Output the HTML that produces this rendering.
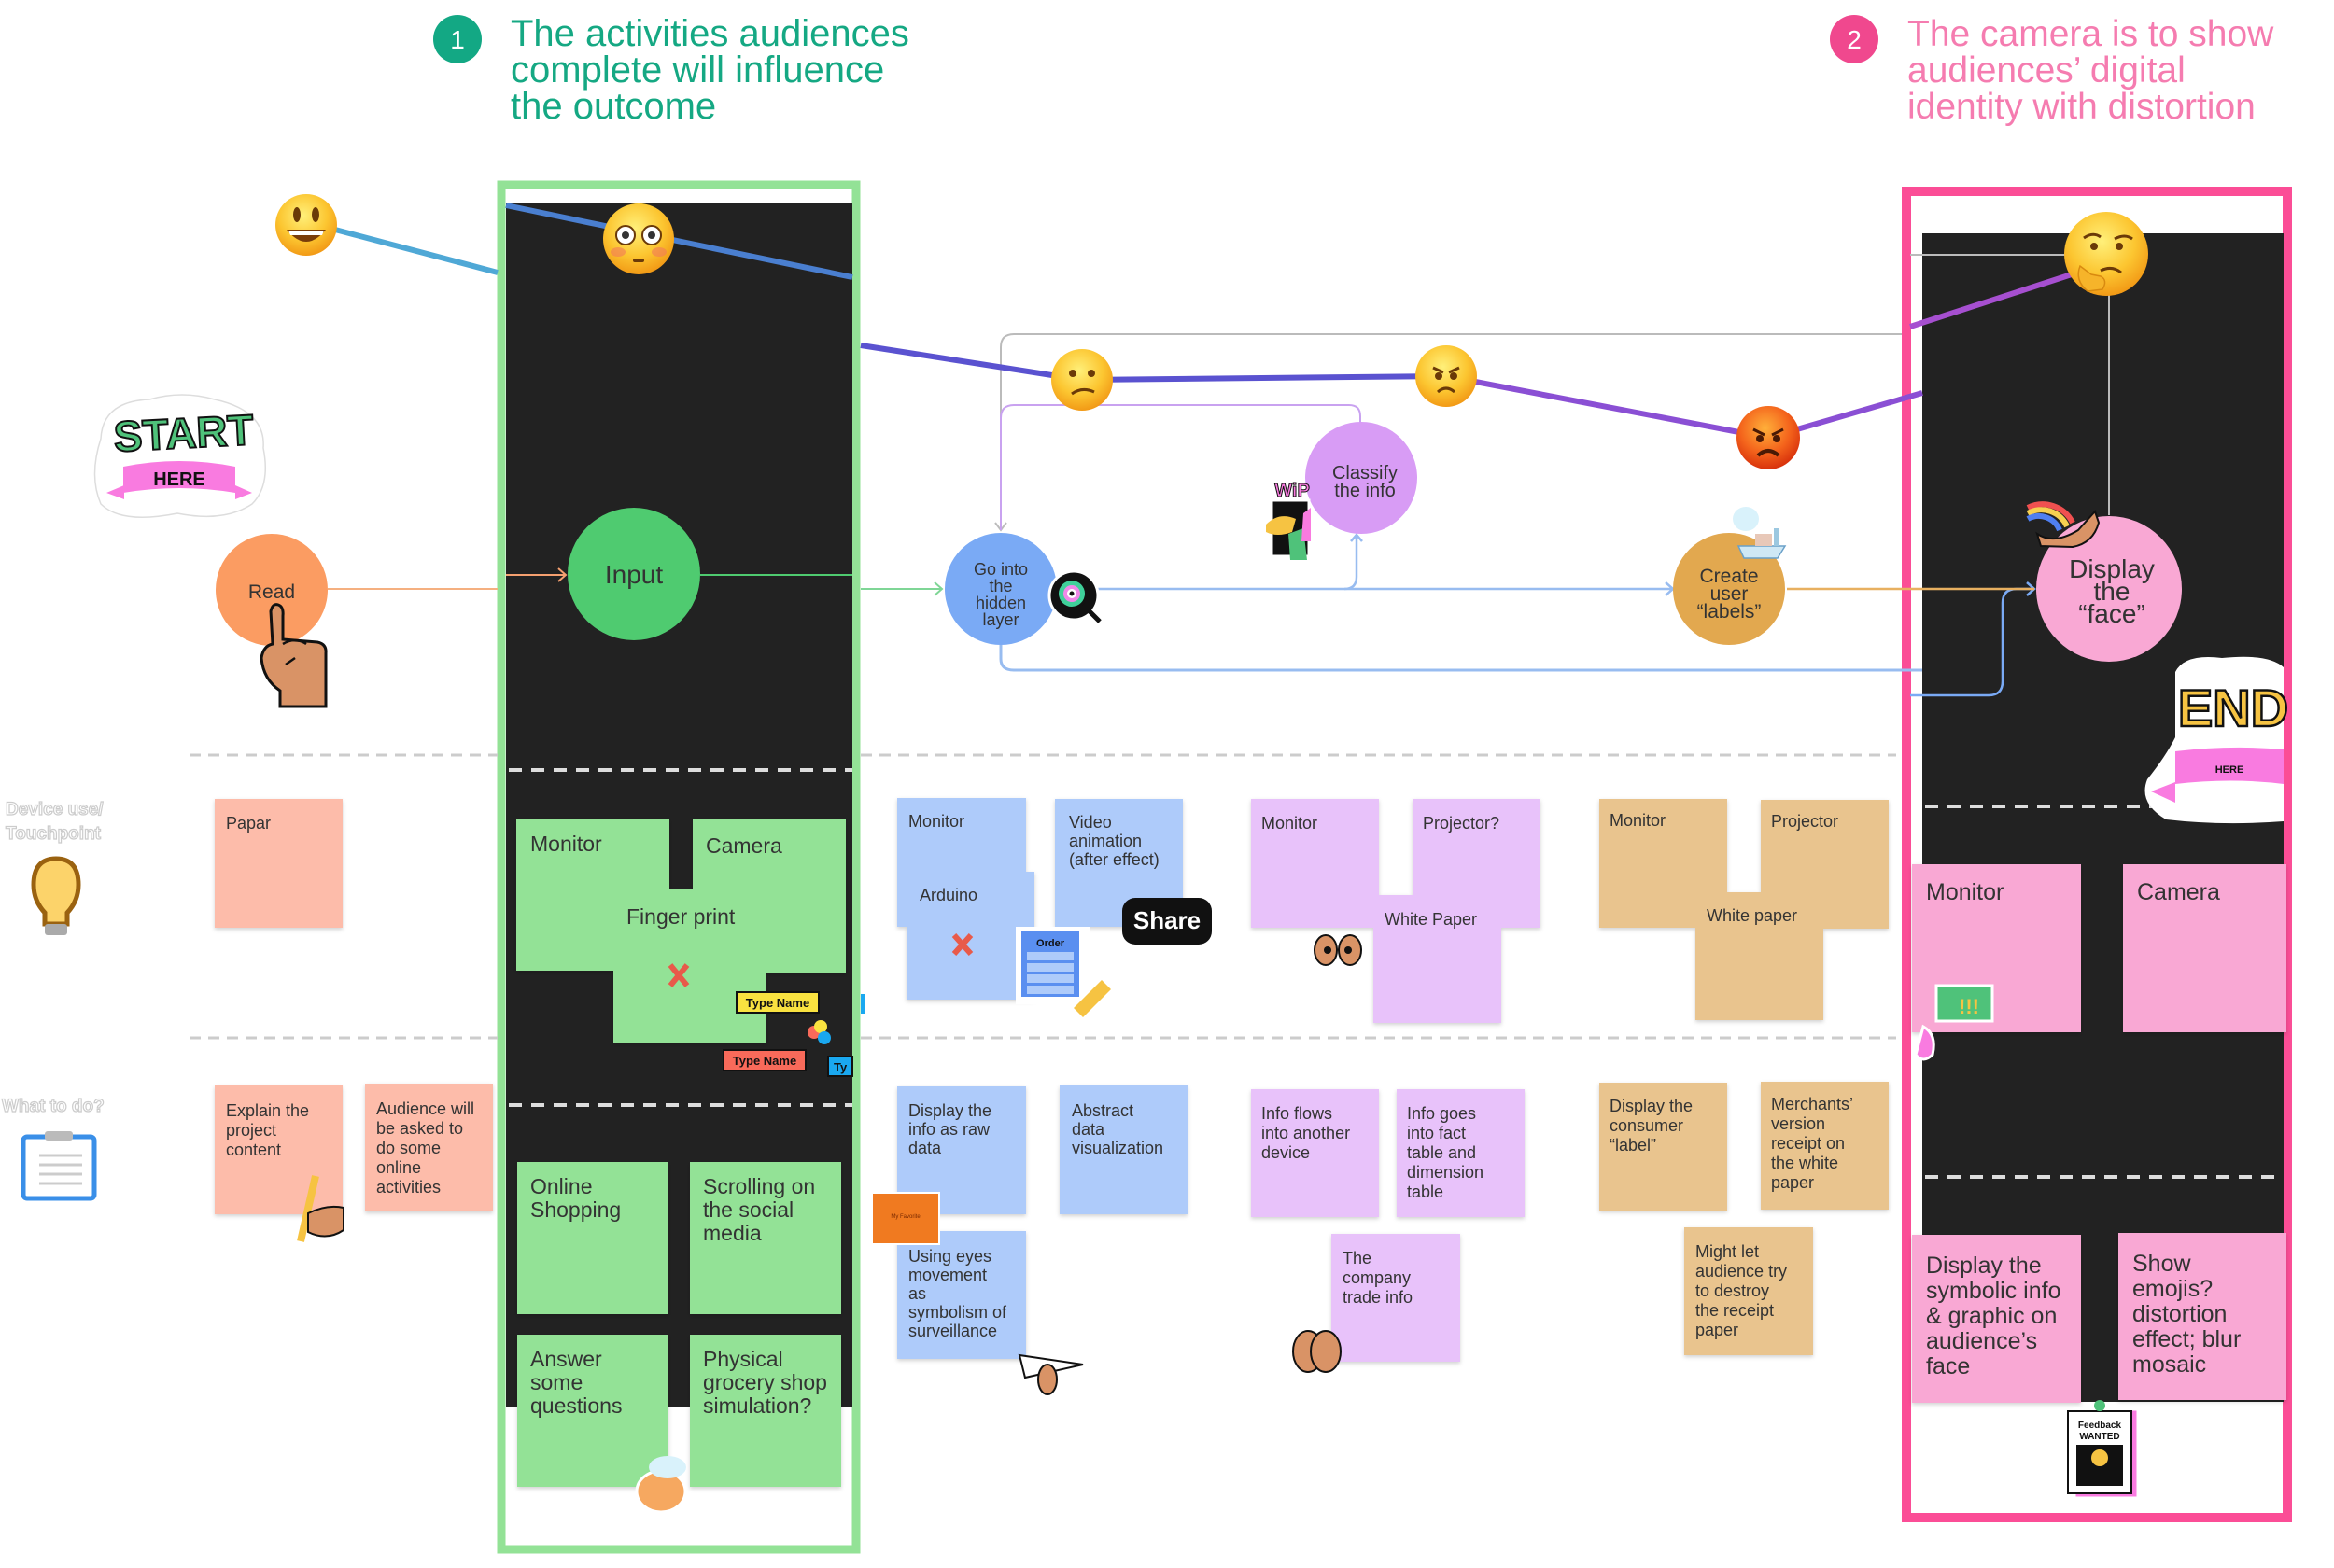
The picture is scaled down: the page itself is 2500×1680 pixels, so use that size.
<!DOCTYPE html>
<html><head><meta charset="utf-8"><style>
html,body{margin:0;padding:0;background:#fff;}
svg{display:block;}
text{font-family:"Liberation Sans",sans-serif;}
</style></head><body>
<svg width="2500" height="1680" viewBox="0 0 2500 1680" xmlns="http://www.w3.org/2000/svg">
<defs>
<radialGradient id="emo" cx="45%" cy="35%" r="65%"><stop offset="0" stop-color="#fff07a"/><stop offset="0.6" stop-color="#fcc631"/><stop offset="1" stop-color="#f29a16"/></radialGradient>
<radialGradient id="emoR" cx="45%" cy="35%" r="65%"><stop offset="0" stop-color="#ffb03a"/><stop offset="0.6" stop-color="#f4641c"/><stop offset="1" stop-color="#d8320c"/></radialGradient>
<filter id="sh" x="-5%" y="-5%" width="115%" height="115%"><feDropShadow dx="0" dy="2" stdDeviation="2" flood-opacity="0.18"/></filter>
</defs>

<!-- Headers -->
<circle cx="490" cy="42" r="26" fill="#13a884"/>
<text x="490" y="52" font-size="28" fill="#fff" text-anchor="middle">1</text>
<text font-size="40" fill="#15a883"><tspan x="547" y="49">The activities audiences</tspan><tspan x="547" y="88">complete will influence</tspan><tspan x="547" y="127">the outcome</tspan></text>
<circle cx="1986" cy="42" r="26" fill="#f0488e"/>
<text x="1986" y="52" font-size="28" fill="#fff" text-anchor="middle">2</text>
<text font-size="39" fill="#f57cb0"><tspan x="2043" y="49">The camera is to show</tspan><tspan x="2043" y="88">audiences’ digital</tspan><tspan x="2043" y="127">identity with distortion</tspan></text>

<!-- Green frame -->
<rect x="537" y="198" width="380" height="1462" fill="#fff" stroke="#93e296" stroke-width="9"/>
<rect x="542" y="218" width="371" height="1289" fill="#222"/>
<!-- Pink frame -->
<rect x="2042" y="205" width="408" height="1421" fill="#fff" stroke="#fb4d96" stroke-width="10"/>
<rect x="2059" y="250" width="387" height="1252" fill="#222"/>

<!-- dashed lines -->
<line x1="203" y1="809" x2="533" y2="809" stroke="#ccc" stroke-width="3" stroke-dasharray="12,8"/>
<line x1="922" y1="809" x2="2031" y2="809" stroke="#ccc" stroke-width="3" stroke-dasharray="12,8"/>
<line x1="203" y1="1112" x2="533" y2="1112" stroke="#ccc" stroke-width="3" stroke-dasharray="12,8"/>
<line x1="922" y1="1112" x2="2031" y2="1112" stroke="#ccc" stroke-width="3" stroke-dasharray="12,8"/>
<line x1="545" y1="825" x2="913" y2="825" stroke="#ddd" stroke-width="4" stroke-dasharray="14,10"/>
<line x1="545" y1="1184" x2="913" y2="1184" stroke="#ddd" stroke-width="4" stroke-dasharray="14,10"/>
<line x1="2062" y1="864" x2="2446" y2="864" stroke="#ddd" stroke-width="4" stroke-dasharray="14,10"/>
<line x1="2062" y1="1261" x2="2446" y2="1261" stroke="#ddd" stroke-width="4" stroke-dasharray="14,10"/>

<!-- Connectors -->
<path d="M1072 568 V372 Q1072 358 1086 358 H2037" fill="none" stroke="#bbb" stroke-width="2"/>
<path d="M2046 273 H2256" fill="none" stroke="#bbb" stroke-width="2"/>
<path d="M2259 300 V552" fill="none" stroke="#bbb" stroke-width="2"/>
<path d="M1066 560 L1072 568 L1078 560" fill="none" stroke="#bbb" stroke-width="2"/>
<path d="M1072 568 V448 Q1072 434 1086 434 H1445 Q1457 434 1457 446 V453" fill="none" stroke="#c9a2f0" stroke-width="2"/>
<line x1="351" y1="631" x2="533" y2="631" stroke="#f5b080" stroke-width="2"/>
<path d="M542 616 H606 M598 609 L606 616 L598 623" fill="none" stroke="#f5a070" stroke-width="2"/>
<line x1="750" y1="616" x2="913" y2="616" stroke="#4fcb70" stroke-width="2"/>
<path d="M922 631 H1009 M1001 624 L1009 631 L1001 638" fill="none" stroke="#7fd696" stroke-width="2"/>
<path d="M1132 631 H1792 M1784 624 L1792 631 L1784 638" fill="none" stroke="#98bcf0" stroke-width="2.5"/>
<path d="M1440 631 Q1453 631 1453 618 V573 M1447 580 L1453 573 L1459 580" fill="none" stroke="#98bcf0" stroke-width="2.5"/>
<path d="M1072 691 V706 Q1072 718 1086 718 H2059" fill="none" stroke="#98bcf0" stroke-width="3"/>
<path d="M2046 745 H2130 Q2145 745 2145 730 V646 Q2145 631 2160 631 H2179 M2171 624 L2179 631 L2171 638" fill="none" stroke="#7aaaf5" stroke-width="2.5"/>
<line x1="1914" y1="631" x2="2179" y2="631" stroke="#e8b060" stroke-width="2.5"/>

<!-- emotion line -->
<polyline points="359,246 533,292" fill="none" stroke="#4fa8d6" stroke-width="6"/>
<polyline points="542,220 913,297" fill="none" stroke="#4a7fd0" stroke-width="6"/>
<polyline points="922,370 1159,407 1549,403" fill="none" stroke="#5a52d0" stroke-width="6"/>
<polyline points="1549,403 1894,469 2059,421" fill="none" stroke="#8a4fd4" stroke-width="6"/>
<polyline points="2046,350 2219,294" fill="none" stroke="#a64fd0" stroke-width="6"/>

<!-- emojis -->
<g>
<circle cx="328" cy="241" r="33" fill="url(#emo)"/>
<ellipse cx="318" cy="230" rx="4" ry="8" fill="#6b3a08"/><ellipse cx="338" cy="230" rx="4" ry="8" fill="#6b3a08"/>
<path d="M307 246 Q328 272 349 246 Z" fill="#7a3d0a"/><path d="M309 247 H347 L345 252 H311Z" fill="#fff"/>
</g>
<g>
<circle cx="684" cy="256" r="38" fill="url(#emo)"/>
<circle cx="670" cy="252" r="10" fill="#fff" stroke="#6b3a08" stroke-width="2"/><circle cx="670" cy="252" r="4" fill="#333"/>
<circle cx="698" cy="252" r="10" fill="#fff" stroke="#6b3a08" stroke-width="2"/><circle cx="698" cy="252" r="4" fill="#333"/>
<ellipse cx="662" cy="270" rx="8" ry="5" fill="#f27a5a" opacity=".6"/><ellipse cx="706" cy="270" rx="8" ry="5" fill="#f27a5a" opacity=".6"/>
<rect x="678" y="277" width="12" height="4" rx="2" fill="#6b3a08"/>
</g>
<g>
<circle cx="1159" cy="407" r="33" fill="url(#emo)"/>
<circle cx="1149" cy="400" r="4" fill="#6b3a08"/><circle cx="1169" cy="400" r="4" fill="#6b3a08"/>
<path d="M1148 422 Q1159 414 1172 420" fill="none" stroke="#6b3a08" stroke-width="3"/>
</g>
<g>
<circle cx="1549" cy="403" r="33" fill="url(#emo)"/>
<path d="M1535 394 L1546 399 M1563 394 L1552 399" stroke="#6b3a08" stroke-width="3"/>
<circle cx="1541" cy="403" r="4" fill="#6b3a08"/><circle cx="1557" cy="403" r="4" fill="#6b3a08"/>
<path d="M1540 420 Q1549 412 1558 420" fill="none" stroke="#6b3a08" stroke-width="3"/>
</g>
<g>
<circle cx="1894" cy="469" r="34" fill="url(#emoR)"/>
<path d="M1878 460 L1890 466 M1910 460 L1898 466" stroke="#4a1a05" stroke-width="3"/>
<circle cx="1885" cy="470" r="4" fill="#4a1a05"/><circle cx="1903" cy="470" r="4" fill="#4a1a05"/>
<path d="M1883 488 Q1894 478 1905 488" fill="none" stroke="#4a1a05" stroke-width="4"/>
</g>
<g>
<circle cx="2256" cy="272" r="45" fill="url(#emo)"/>
<path d="M2232 255 Q2242 248 2250 254 M2265 256 Q2276 250 2284 256" fill="none" stroke="#6b3a08" stroke-width="3"/>
<circle cx="2243" cy="264" r="4" fill="#6b3a08"/><circle cx="2270" cy="264" r="4" fill="#6b3a08"/>
<path d="M2250 290 Q2262 284 2272 292" fill="none" stroke="#6b3a08" stroke-width="3"/>
<path d="M2228 285 Q2222 300 2236 312 L2252 310 Q2258 300 2250 296 L2240 294Z" fill="#f6b42a" stroke="#d88a10" stroke-width="1.5"/>
</g>

<!-- START sticker -->
<g>
<path d="M108 470 Q110 430 160 428 Q195 418 230 428 Q285 440 282 480 Q290 520 270 540 Q240 560 190 550 Q130 562 108 540 Q95 510 108 470Z" fill="#fff" stroke="#ddd" stroke-width="1.5"/>
<text x="197" y="480" font-size="46" font-weight="bold" fill="#4fc27a" stroke="#111" stroke-width="2" text-anchor="middle" transform="rotate(-3 197 470)">START</text>
<path d="M114 528 L133 520 L133 535 Z M270 528 L252 520 L252 535Z" fill="#f97be0"/>
<path d="M132 500 Q192 488 252 500 V528 Q192 518 132 528Z" fill="#f97be0"/>
<text x="192" y="520" font-size="20" font-weight="bold" fill="#111" text-anchor="middle">HERE</text>
</g>

<!-- Nodes -->
<circle cx="291" cy="632" r="60" fill="#fb9c62"/>
<text x="291" y="641" font-size="21" fill="#333" text-anchor="middle">Read</text>
<g>
<path d="M290 655 Q292 646 298 648 Q304 650 303 660 V685 L340 688 Q350 690 349 700 V757 H300 V740 Q282 728 280 705 Q282 692 292 690Z" fill="#d99366" stroke="#111" stroke-width="3"/>
<path d="M303 690 Q316 682 328 690 M316 705 L306 712" fill="none" stroke="#111" stroke-width="2.5"/>
</g>
<circle cx="679" cy="615" r="71" fill="#4fcb70"/>
<text x="679" y="625" font-size="28" fill="#333" text-anchor="middle">Input</text>
<circle cx="1072" cy="631" r="60" fill="#7aaaf5"/>
<text font-size="18" fill="#333" text-anchor="middle"><tspan x="1072" y="616">Go into</tspan><tspan x="1072" y="634">the</tspan><tspan x="1072" y="652">hidden</tspan><tspan x="1072" y="670">layer</tspan></text>
<g>
<circle cx="1150" cy="638" r="26" fill="#111" stroke="#fff" stroke-width="3"/>
<circle cx="1148" cy="636" r="14" fill="#3fd09a"/><circle cx="1148" cy="636" r="9" fill="#f088e8"/><circle cx="1148" cy="636" r="5" fill="#fff"/><circle cx="1148" cy="636" r="2.5" fill="#111"/>
<line x1="1160" y1="648" x2="1178" y2="666" stroke="#111" stroke-width="5"/>
</g>
<circle cx="1458" cy="512" r="60" fill="#d89cf5"/>
<text font-size="20" fill="#333" text-anchor="middle"><tspan x="1462" y="513">Classify</tspan><tspan x="1462" y="532">the info</tspan></text>
<g>
<rect x="1362" y="536" width="40" height="60" fill="#111" stroke="#fff" stroke-width="3"/>
<path d="M1356 562 Q1370 548 1388 556 L1384 570 Q1368 576 1356 570Z" fill="#f6c342"/>
<path d="M1382 600 L1380 572 L1396 566 L1400 600Z" fill="#4fc27a"/>
<path d="M1396 550 L1404 544 L1404 580 L1394 580Z" fill="#f97be0"/>
<text x="1384" y="532" font-size="20" font-weight="bold" fill="#f97be0" stroke="#111" stroke-width="1" text-anchor="middle">WiP</text>
</g>
<circle cx="1852" cy="631" r="60" fill="#e2a84f"/>
<text font-size="21" fill="#333" text-anchor="middle"><tspan x="1852" y="624">Create</tspan><tspan x="1852" y="643">user</tspan><tspan x="1852" y="662">“labels”</tspan></text>
<g>
<ellipse cx="1870" cy="556" rx="14" ry="13" fill="#d9f2fb"/>
<path d="M1862 585 H1912 L1904 598 H1868Z" fill="#cfe8f5" stroke="#6aa0c8" stroke-width="1.5"/>
<rect x="1880" y="572" width="18" height="13" fill="#e8c8b8"/>
<rect x="1900" y="566" width="6" height="19" fill="#9cc8e0"/>
</g>
<circle cx="2259" cy="631" r="78" fill="#f9a8d4"/>
<text font-size="28" fill="#333" text-anchor="middle"><tspan x="2262" y="619">Display</tspan><tspan x="2262" y="643">the</tspan><tspan x="2262" y="667">“face”</tspan></text>
<g>
<path d="M2172 544 A36 36 0 0 1 2220 560" fill="none" stroke="#f05050" stroke-width="6"/>
<path d="M2172 550 A30 30 0 0 1 2214 564" fill="none" stroke="#f6d050" stroke-width="6"/>
<path d="M2172 556 A24 24 0 0 1 2206 568" fill="none" stroke="#4f7ff0" stroke-width="6"/>
<path d="M2182 572 Q2200 584 2226 568 L2244 548 L2248 560 Q2242 582 2220 586 L2186 585Z" fill="#d99366" stroke="#111" stroke-width="2"/>
</g>
<!-- END sticker -->
<g>
<path d="M2330 720 Q2340 700 2380 705 Q2430 700 2446 715 V880 Q2380 885 2320 878 Q2290 860 2300 835 Q2320 810 2330 790Z" fill="#fff"/>
<text x="2392" y="778" font-size="56" font-weight="bold" fill="#f6c342" stroke="#111" stroke-width="2.5" text-anchor="middle">END</text>
<path d="M2304 848 L2330 838 L2330 860Z" fill="#f97be0"/>
<path d="M2330 805 Q2390 798 2446 803 V840 Q2390 833 2330 840Z" fill="#f97be0"/>
<text x="2388" y="828" font-size="11" font-weight="bold" fill="#111" text-anchor="middle">HERE</text>
</g>

<!-- Side labels -->
<text font-size="19" fill="#fff" stroke="#ccc" stroke-width="1.2" font-weight="bold"><tspan x="6" y="873">Device use/</tspan><tspan x="6" y="899">Touchpoint</tspan></text>
<g>
<path d="M60 920 Q84 920 84 948 Q84 965 72 978 V990 H48 V978 Q36 965 36 948 Q36 920 60 920Z" fill="#fcd36a" stroke="#9a6210" stroke-width="5"/>
<rect x="48" y="990" width="24" height="12" rx="3" fill="#aaa"/>
</g>
<text x="2" y="1191" font-size="19" fill="#fff" stroke="#ccc" stroke-width="1.2" font-weight="bold">What to do?</text>
<g>
<rect x="25" y="1218" width="76" height="66" rx="4" fill="#fff" stroke="#3a8fe8" stroke-width="5"/>
<rect x="48" y="1212" width="30" height="10" rx="3" fill="#bbb"/>
<path d="M42 1238 H88 M42 1248 H88 M42 1258 H88 M42 1268 H88" stroke="#ccc" stroke-width="3"/>
</g>

<!-- Sticky notes -->
<g filter="url(#sh)">
<rect x="230" y="856" width="137" height="138" fill="#fdbcaa"/>
<rect x="230" y="1163" width="137" height="138" fill="#fdbcaa"/>
<rect x="391" y="1161" width="137" height="137" fill="#fdbcaa"/>

<rect x="553" y="877" width="164" height="163" fill="#93e296"/>
<rect x="742" y="878" width="164" height="164" fill="#93e296"/>
<rect x="657" y="953" width="164" height="164" fill="#93e296"/>
<rect x="554" y="1245" width="162" height="163" fill="#93e296"/>
<rect x="739" y="1245" width="162" height="163" fill="#93e296"/>
<rect x="554" y="1430" width="162" height="163" fill="#93e296"/>
<rect x="739" y="1430" width="162" height="163" fill="#93e296"/>

<rect x="961" y="855" width="138" height="138" fill="#aecbfa"/>
<rect x="971" y="934" width="137" height="137" fill="#aecbfa"/>
<rect x="1130" y="856" width="137" height="137" fill="#aecbfa"/>
<rect x="961" y="1164" width="138" height="137" fill="#aecbfa"/>
<rect x="1135" y="1163" width="137" height="138" fill="#aecbfa"/>
<rect x="961" y="1319" width="138" height="137" fill="#aecbfa"/>

<rect x="1340" y="856" width="137" height="138" fill="#e8c2fa"/>
<rect x="1513" y="856" width="137" height="138" fill="#e8c2fa"/>
<rect x="1471" y="959" width="137" height="137" fill="#e8c2fa"/>
<rect x="1340" y="1167" width="137" height="137" fill="#e8c2fa"/>
<rect x="1496" y="1167" width="137" height="137" fill="#e8c2fa"/>
<rect x="1426" y="1322" width="138" height="137" fill="#e8c2fa"/>

<rect x="1713" y="856" width="137" height="138" fill="#e9c48e"/>
<rect x="1886" y="857" width="137" height="138" fill="#e9c48e"/>
<rect x="1816" y="956" width="137" height="137" fill="#e9c48e"/>
<rect x="1713" y="1160" width="137" height="137" fill="#e9c48e"/>
<rect x="1886" y="1159" width="137" height="137" fill="#e9c48e"/>
<rect x="1804" y="1315" width="138" height="137" fill="#e9c48e"/>

<rect x="2048" y="926" width="181" height="180" fill="#f9a8d4"/>
<rect x="2274" y="926" width="175" height="180" fill="#f9a8d4"/>
<rect x="2048" y="1323" width="181" height="180" fill="#f9a8d4"/>
<rect x="2269" y="1321" width="180" height="179" fill="#f9a8d4"/>
</g>

<!-- note texts -->
<g font-size="18" fill="#333">
<text x="242" y="888">Papar</text>
<text><tspan x="242" y="1196">Explain the</tspan><tspan x="242" y="1217">project</tspan><tspan x="242" y="1238">content</tspan></text>
<text><tspan x="403" y="1194">Audience will</tspan><tspan x="403" y="1215">be asked to</tspan><tspan x="403" y="1236">do some</tspan><tspan x="403" y="1257">online</tspan><tspan x="403" y="1278">activities</tspan></text>

<text x="973" y="886">Monitor</text>
<text x="985" y="965">Arduino</text>
<text><tspan x="1145" y="887">Video</tspan><tspan x="1145" y="907">animation</tspan><tspan x="1145" y="927">(after effect)</tspan></text>
<text><tspan x="973" y="1196">Display the</tspan><tspan x="973" y="1216">info as raw</tspan><tspan x="973" y="1236">data</tspan></text>
<text><tspan x="1148" y="1196">Abstract</tspan><tspan x="1148" y="1216">data</tspan><tspan x="1148" y="1236">visualization</tspan></text>
<text><tspan x="973" y="1352">Using eyes</tspan><tspan x="973" y="1372">movement</tspan><tspan x="973" y="1392">as</tspan><tspan x="973" y="1412">symbolism of</tspan><tspan x="973" y="1432">surveillance</tspan></text>

<text x="1351" y="888">Monitor</text>
<text x="1524" y="888">Projector?</text>
<text x="1483" y="991">White Paper</text>
<text><tspan x="1351" y="1199">Info flows</tspan><tspan x="1351" y="1220">into another</tspan><tspan x="1351" y="1241">device</tspan></text>
<text><tspan x="1507" y="1199">Info goes</tspan><tspan x="1507" y="1220">into fact</tspan><tspan x="1507" y="1241">table and</tspan><tspan x="1507" y="1262">dimension</tspan><tspan x="1507" y="1283">table</tspan></text>
<text><tspan x="1438" y="1354">The</tspan><tspan x="1438" y="1375">company</tspan><tspan x="1438" y="1396">trade info</tspan></text>

<text x="1724" y="885">Monitor</text>
<text x="1897" y="886">Projector</text>
<text x="1828" y="987">White paper</text>
<text><tspan x="1724" y="1191">Display the</tspan><tspan x="1724" y="1212">consumer</tspan><tspan x="1724" y="1233">“label”</tspan></text>
<text><tspan x="1897" y="1189">Merchants’</tspan><tspan x="1897" y="1210">version</tspan><tspan x="1897" y="1231">receipt on</tspan><tspan x="1897" y="1252">the white</tspan><tspan x="1897" y="1273">paper</tspan></text>
<text><tspan x="1816" y="1347">Might let</tspan><tspan x="1816" y="1368">audience try</tspan><tspan x="1816" y="1389">to destroy</tspan><tspan x="1816" y="1410">the receipt</tspan><tspan x="1816" y="1431">paper</tspan></text>
</g>
<g font-size="23" fill="#333">
<text x="568" y="912">Monitor</text>
<text x="756" y="914">Camera</text>
<text x="671" y="990">Finger print</text>
<text><tspan x="568" y="1279">Online</tspan><tspan x="568" y="1304">Shopping</tspan></text>
<text><tspan x="753" y="1279">Scrolling on</tspan><tspan x="753" y="1304">the social</tspan><tspan x="753" y="1329">media</tspan></text>
<text><tspan x="568" y="1464">Answer</tspan><tspan x="568" y="1489">some</tspan><tspan x="568" y="1514">questions</tspan></text>
<text><tspan x="753" y="1464">Physical</tspan><tspan x="753" y="1489">grocery shop</tspan><tspan x="753" y="1514">simulation?</tspan></text>
</g>
<g font-size="25" fill="#333">
<text x="2063" y="964">Monitor</text>
<text x="2289" y="964">Camera</text>
<text><tspan x="2063" y="1364">Display the</tspan><tspan x="2063" y="1391">symbolic info</tspan><tspan x="2063" y="1418">&amp; graphic on</tspan><tspan x="2063" y="1445">audience’s</tspan><tspan x="2063" y="1472">face</tspan></text>
<text><tspan x="2284" y="1362">Show</tspan><tspan x="2284" y="1389">emojis?</tspan><tspan x="2284" y="1416">distortion</tspan><tspan x="2284" y="1443">effect; blur</tspan><tspan x="2284" y="1470">mosaic</tspan></text>
</g>

<!-- small stickers/decor -->
<path d="M718 1034 L736 1056 M736 1034 L718 1056" stroke="#e85a4a" stroke-width="6"/>
<path d="M1022 1002 L1040 1022 M1040 1002 L1022 1022" stroke="#e85a4a" stroke-width="6"/>
<rect x="789" y="1063" width="88" height="22" fill="#f9e240" stroke="#111" stroke-width="2"/>
<text x="833" y="1079" font-size="13" font-weight="bold" text-anchor="middle" fill="#111">Type Name</text>
<rect x="775" y="1125" width="88" height="22" fill="#f86a5a" stroke="#111" stroke-width="2"/>
<text x="819" y="1141" font-size="13" font-weight="bold" text-anchor="middle" fill="#111">Type Name</text>
<rect x="887" y="1132" width="26" height="21" fill="#1aa8f0" stroke="#111" stroke-width="2"/>
<text x="893" y="1148" font-size="13" font-weight="bold" fill="#111">Ty</text>
<rect x="922" y="1065" width="4" height="21" fill="#1aa8f0"/>
<circle cx="872" cy="1106" r="7" fill="#f86a5a"/><circle cx="879" cy="1100" r="7" fill="#f9e240"/><circle cx="883" cy="1112" r="7" fill="#1aa8f0"/>
<g><rect x="1088" y="993" width="80" height="83" fill="#fff"/><rect x="1094" y="998" width="62" height="70" fill="#5a8ff0"/>
<text x="1125" y="1014" font-size="11" font-weight="bold" text-anchor="middle" fill="#111">Order</text>
<rect x="1100" y="1020" width="50" height="9" fill="#aecbfa"/><rect x="1100" y="1032" width="50" height="9" fill="#aecbfa"/><rect x="1100" y="1044" width="50" height="9" fill="#aecbfa"/><rect x="1100" y="1056" width="50" height="9" fill="#aecbfa"/>
<path d="M1150 1080 L1180 1050 L1190 1060 L1160 1090Z" fill="#f6c342"/></g>
<rect x="1202" y="962" width="96" height="50" rx="14" fill="#111"/>
<text x="1250" y="995" font-size="26" font-weight="bold" fill="#fff" text-anchor="middle">Share</text>
<rect x="934" y="1278" width="72" height="55" fill="#f07a20" stroke="#fff" stroke-width="2"/>
<text x="970" y="1305" font-size="6" fill="#7a2a00" text-anchor="middle">My Favorite</text>
<g><ellipse cx="1401" cy="1448" rx="16" ry="22" fill="#d99366" stroke="#111" stroke-width="2"/><ellipse cx="1420" cy="1448" rx="16" ry="22" fill="#d99366" stroke="#111" stroke-width="2"/></g>
<g><ellipse cx="1420" cy="1018" rx="12" ry="16" fill="#d99366" stroke="#111" stroke-width="2"/><ellipse cx="1446" cy="1018" rx="12" ry="16" fill="#d99366" stroke="#111" stroke-width="2"/><circle cx="1422" cy="1018" r="4" fill="#111"/><circle cx="1444" cy="1018" r="4" fill="#111"/></g>
<g><path d="M1092 1452 L1160 1462 L1098 1476Z" fill="#fff" stroke="#111" stroke-width="2"/><ellipse cx="1122" cy="1478" rx="10" ry="16" fill="#d99366" stroke="#111" stroke-width="2"/></g>
<g><path d="M338 1260 L322 1330" stroke="#f6c342" stroke-width="8"/><path d="M330 1300 Q350 1290 368 1294 V1318 Q350 1330 330 1320Z" fill="#d99366" stroke="#111" stroke-width="2"/></g>
<g><ellipse cx="708" cy="1598" rx="26" ry="22" fill="#f6a860" stroke="#fff" stroke-width="3"/><ellipse cx="715" cy="1572" rx="20" ry="12" fill="#d9f2fb"/></g>
<g><rect x="2074" y="1056" width="60" height="38" fill="#4fc27a" stroke="#fff" stroke-width="3"/><text x="2098" y="1086" font-size="22" font-weight="bold" fill="#f6c342">!!!</text><path d="M2060 1100 Q2075 1108 2070 1130 Q2060 1140 2052 1130Z" fill="#f97be0" stroke="#fff" stroke-width="3"/></g>
<g><rect x="2222" y="1510" width="68" height="95" fill="#f97be0" stroke="#fff" stroke-width="3"/><rect x="2215" y="1512" width="68" height="88" fill="#fff" stroke="#111" stroke-width="2"/>
<text x="2249" y="1530" font-size="10" font-weight="bold" text-anchor="middle" fill="#111">Feedback</text><text x="2249" y="1542" font-size="10" font-weight="bold" text-anchor="middle" fill="#111">WANTED</text>
<rect x="2224" y="1548" width="50" height="44" fill="#111"/><circle cx="2249" cy="1562" r="9" fill="#f6c342"/><circle cx="2249" cy="1506" r="6" fill="#4fc27a"/></g>
</svg>
</body></html>
